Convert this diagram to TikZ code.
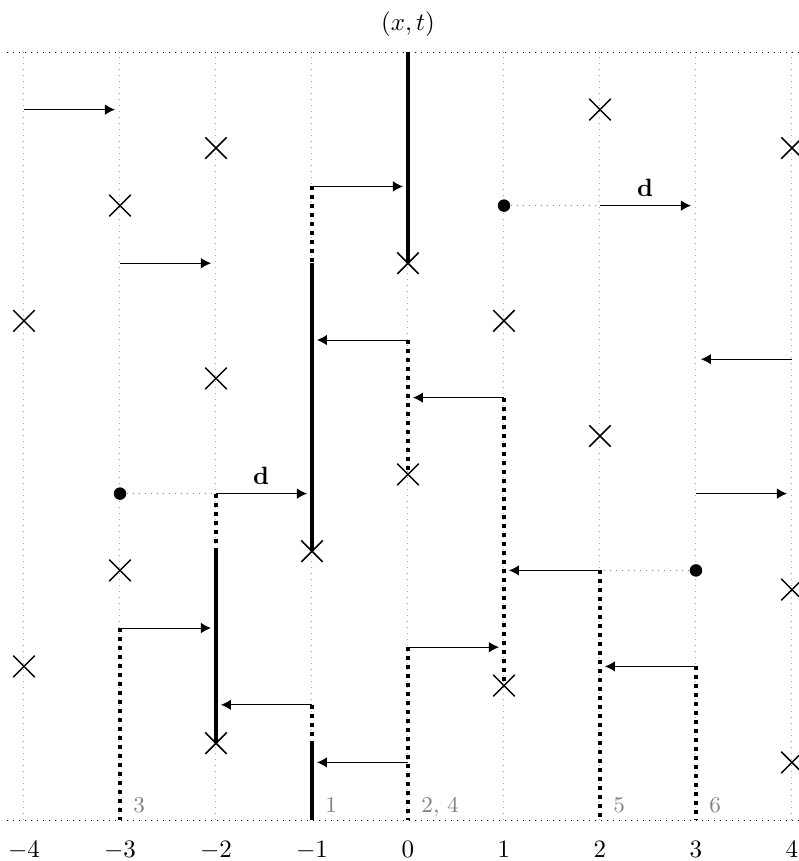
\documentclass[tikz,border=0pt]{standalone}
\usepackage{amsmath, amssymb}
\usepackage{tikz}
\usetikzlibrary{arrows,arrows.meta,positioning,shapes.misc}
\tikzset{k/.style={cross out, draw, semithick, minimum size=8pt, inner sep=0pt}}
\tikzset{s/.style={circle, fill, inner sep=0pt, minimum size=5pt}}
\tikzset{a/.style={draw, -{Latex[length=4pt,width=4.2pt]}, shorten >=2pt}}
\tikzset{tt/.style={draw, ultra thick}}
\tikzset{td/.style={draw, ultra thick, dotted}}
\tikzset{gl/.style={draw, gray!70, dotted}}
\tikzset{hl/.style={draw, dotted}}
\tikzset{tie/.style={draw, gray, dotted}}
\tikzset{lab/.style={gray, font=\small, anchor=base west, inner sep=0pt}}

\begin{document}
\begin{tikzpicture}[x=1.35cm, y=1.35cm]
    \useasboundingbox (-4.25,-0.427) rectangle (4.073,8.542);
    %% grid
    \foreach \x in {-4,...,4}
        \path[gl] (\x,0) -- (\x,8);
    \path[hl] (-4.18,8) -- (4.3,8);
    \path[hl] (-4.18,0) -- (4.3,0);
    \foreach \x in {-4,...,4}
        \node (x\x) at (\x,-0.215) [anchor=north, inner sep=0pt] {$\x$};
    \node (xt) at (0,8.29) {$(x,t)$};
    %% crosses
    \node (c1) at (-2,7) [k] {};
    \node (c2) at (-3,6.4) [k] {};
    \node (c3) at (0,5.8) [k] {};
    \node (c4) at (2,7.4) [k] {};
    \node (c5) at (4,7) [k] {};
    \node (c6) at (-4,5.2) [k] {};
    \node (c7) at (-2,4.6) [k] {};
    \node (c8) at (1,5.2) [k] {};
    \node (c9) at (2,4) [k] {};
    \node (c10) at (0,3.6) [k] {};
    \node (c11) at (-1,2.8) [k] {};
    \node (c12) at (-3,2.6) [k] {};
    \node (c13) at (-4,1.6) [k] {};
    \node (c14) at (-2,0.8) [k] {};
    \node (c15) at (1,1.4) [k] {};
    \node (c16) at (4,2.4) [k] {};
    \node (c17) at (4,0.6) [k] {};
    %% thick paths
    \path[tt] (0,8) -- (c3.center);
    \path[td] (-1,6.6) -- (-1,5.8);
    \path[tt] (-1,5.8) -- (c11.center);
    \path[td] (0,5) -- (c10.center);
    \path[td] (1,4.4) -- (c15.center);
    \path[td] (-2,3.4) -- (-2,2.8);
    \path[tt] (-2,2.8) -- (c14.center);
    \path[td] (-1,1.2) -- (-1,0.8);
    \path[tt] (-1,0.8) -- (-1,0);
    \path[td] (-3,2) -- (-3,0);
    \path[td] (0,1.8) -- (0,0);
    \path[td] (2,2.6) -- (2,0);
    \path[td] (3,1.6) -- (3,0);
    %% jumps
    \path[a] (-4,7.4) -- (-3,7.4);
    \path[a] (-1,6.6) -- (0,6.6);
    \path[a] (-3,5.8) -- (-2,5.8);
    \path[a] (0,5) -- (-1,5);
    \path[a] (4,4.8) -- (3,4.8);
    \path[a] (1,4.4) -- (0,4.4);
    \path[a] (3,3.4) -- (4,3.4);
    \path[a] (-3,2) -- (-2,2);
    \path[a] (0,1.8) -- (1,1.8);
    \path[a] (3,1.6) -- (2,1.6);
    \path[a] (-1,1.2) -- (-2,1.2);
    \path[a] (0,0.6) -- (-1,0.6);
    %% displaced jumps
    \node (d1) at (1,6.4) [s] {};
    \node (d2) at (-3,3.4) [s] {};
    \node (d3) at (3,2.6) [s] {};
    \path[tie] (d1) -- (2,6.4);
    \path[a] (2,6.4) -- node[pos=0.47, above] (dd1) {$\mathbf{d}$} (3,6.4);
    \path[tie] (d2) -- (-2,3.4);
    \path[a] (-2,3.4) -- node[pos=0.47, above] (dd2) {$\mathbf{d}$} (-1,3.4);
    \path[tie] (d3) -- (2,2.6);
    \path[a] (2,2.6) -- (1,2.6);
    %% labels
    \node (l3) at (-2.865,0.083) [lab] {3};
    \node (l1) at (-0.865,0.083) [lab] {1};
    \node (l24) at (0.135,0.083) [lab] {2, 4};
    \node (l5) at (2.135,0.083) [lab] {5};
    \node (l6) at (3.135,0.083) [lab] {6};
\end{tikzpicture}
\end{document}
